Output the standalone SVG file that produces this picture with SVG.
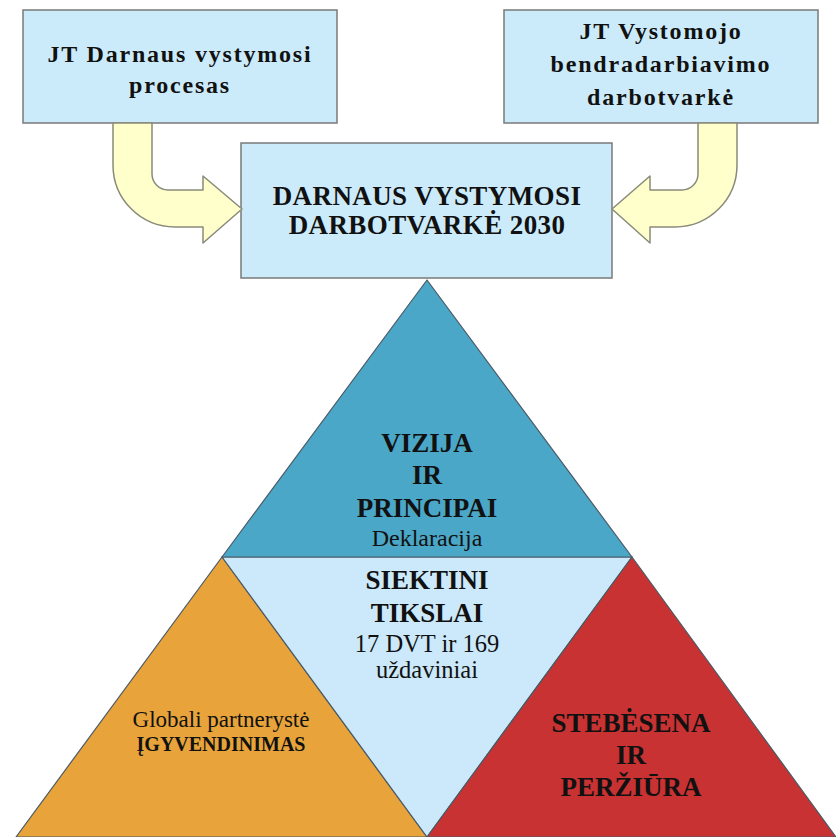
<svg xmlns="http://www.w3.org/2000/svg" width="836" height="837" viewBox="0 0 836 837" font-family="Liberation Serif">
<style>
.box{fill:#CCEBFA;stroke:#7a7a7a;stroke-width:1.5}
.arrow{fill:#FFFFCC;stroke:#8a8a7a;stroke-width:1.5;stroke-linejoin:round}
.tri{stroke:#4a5a66;stroke-width:1.2;stroke-linejoin:round}
text{fill:#111;text-anchor:middle}
.b{font-weight:bold}
.bx{font-size:24px;font-weight:bold;letter-spacing:1.8px}
</style>
<rect width="836" height="837" fill="#ffffff"/>
<g id="tri-implementation">
<polygon class="tri" points="222,557 16,837 427,837" fill="#E8A33A"/>
<text x="221" y="727" font-family="Liberation Serif" font-size="23">Globali partnerystė</text>
<text x="221" y="751" font-family="Liberation Serif" class="b" font-size="20">ĮGYVENDINIMAS</text>
</g>
<g id="tri-goals">
<polygon class="tri" points="222,557 632,557 427,837" fill="#CBE9FA"/>
<text x="427" y="589" font-family="Liberation Serif" class="b" font-size="27">SIEKTINI</text>
<text x="427" y="622" font-family="Liberation Serif" class="b" font-size="27">TIKSLAI</text>
<text x="427" y="652" font-family="Liberation Serif" font-size="24.5">17 DVT ir 169</text>
<text x="427" y="678" font-family="Liberation Serif" font-size="24.5">uždaviniai</text>
</g>
<g id="tri-monitoring">
<polygon class="tri" points="632,557 427,837 836,837" fill="#C83232"/>
<text x="631" y="732" font-family="Liberation Serif" class="b" font-size="27">STEBĖSENA</text>
<text x="631" y="764" font-family="Liberation Serif" class="b" font-size="27">IR</text>
<text x="631" y="796" font-family="Liberation Serif" class="b" font-size="27">PERŽIŪRA</text>
</g>
<g id="tri-vision">
<polygon class="tri" points="427,280 222,557 632,557" fill="#4BA7C8"/>
<text x="427" y="452" font-family="Liberation Serif" class="b" font-size="27">VIZIJA</text>
<text x="427" y="484" font-family="Liberation Serif" class="b" font-size="27">IR</text>
<text x="427" y="517" font-family="Liberation Serif" class="b" font-size="27">PRINCIPAI</text>
<text x="427" y="546" font-family="Liberation Serif" font-size="24">Deklaracija</text>
</g>
<g id="box-un-sd">
<rect class="box" x="23" y="10" width="314" height="113"/>
<text x="180" y="62" font-family="Liberation Serif" class="bx">JT Darnaus vystymosi</text>
<text x="180" y="93" font-family="Liberation Serif" class="bx">procesas</text>
</g>
<g id="box-un-dev">
<rect class="box" x="504" y="10" width="314" height="113"/>
<text x="661" y="39" font-family="Liberation Serif" class="bx">JT Vystomojo</text>
<text x="661" y="72" font-family="Liberation Serif" class="bx">bendradarbiavimo</text>
<text x="661" y="105" font-family="Liberation Serif" class="bx">darbotvarkė</text>
</g>
<g id="box-agenda">
<rect class="box" x="241" y="143" width="371" height="135"/>
<text x="427" y="205" font-family="Liberation Serif" class="b" font-size="27" letter-spacing="0.4">DARNAUS VYSTYMOSI</text>
<text x="427" y="234" font-family="Liberation Serif" class="b" font-size="27" letter-spacing="0.4">DARBOTVARKĖ 2030</text>
</g>
<g id="connectors">
<path class="arrow" d="M113,123 H152 V174 A16,16 0 0 0 168,190 H203 V176 L242,209 L203,243 V227 H175 A62,62 0 0 1 113,165 Z"/>
<path class="arrow" d="M737,123 H698 V174 A16,16 0 0 1 682,190 H650 V176 L612,209 L650,243 V227 H675 A62,62 0 0 0 737,165 Z"/>
</g>
</svg>
